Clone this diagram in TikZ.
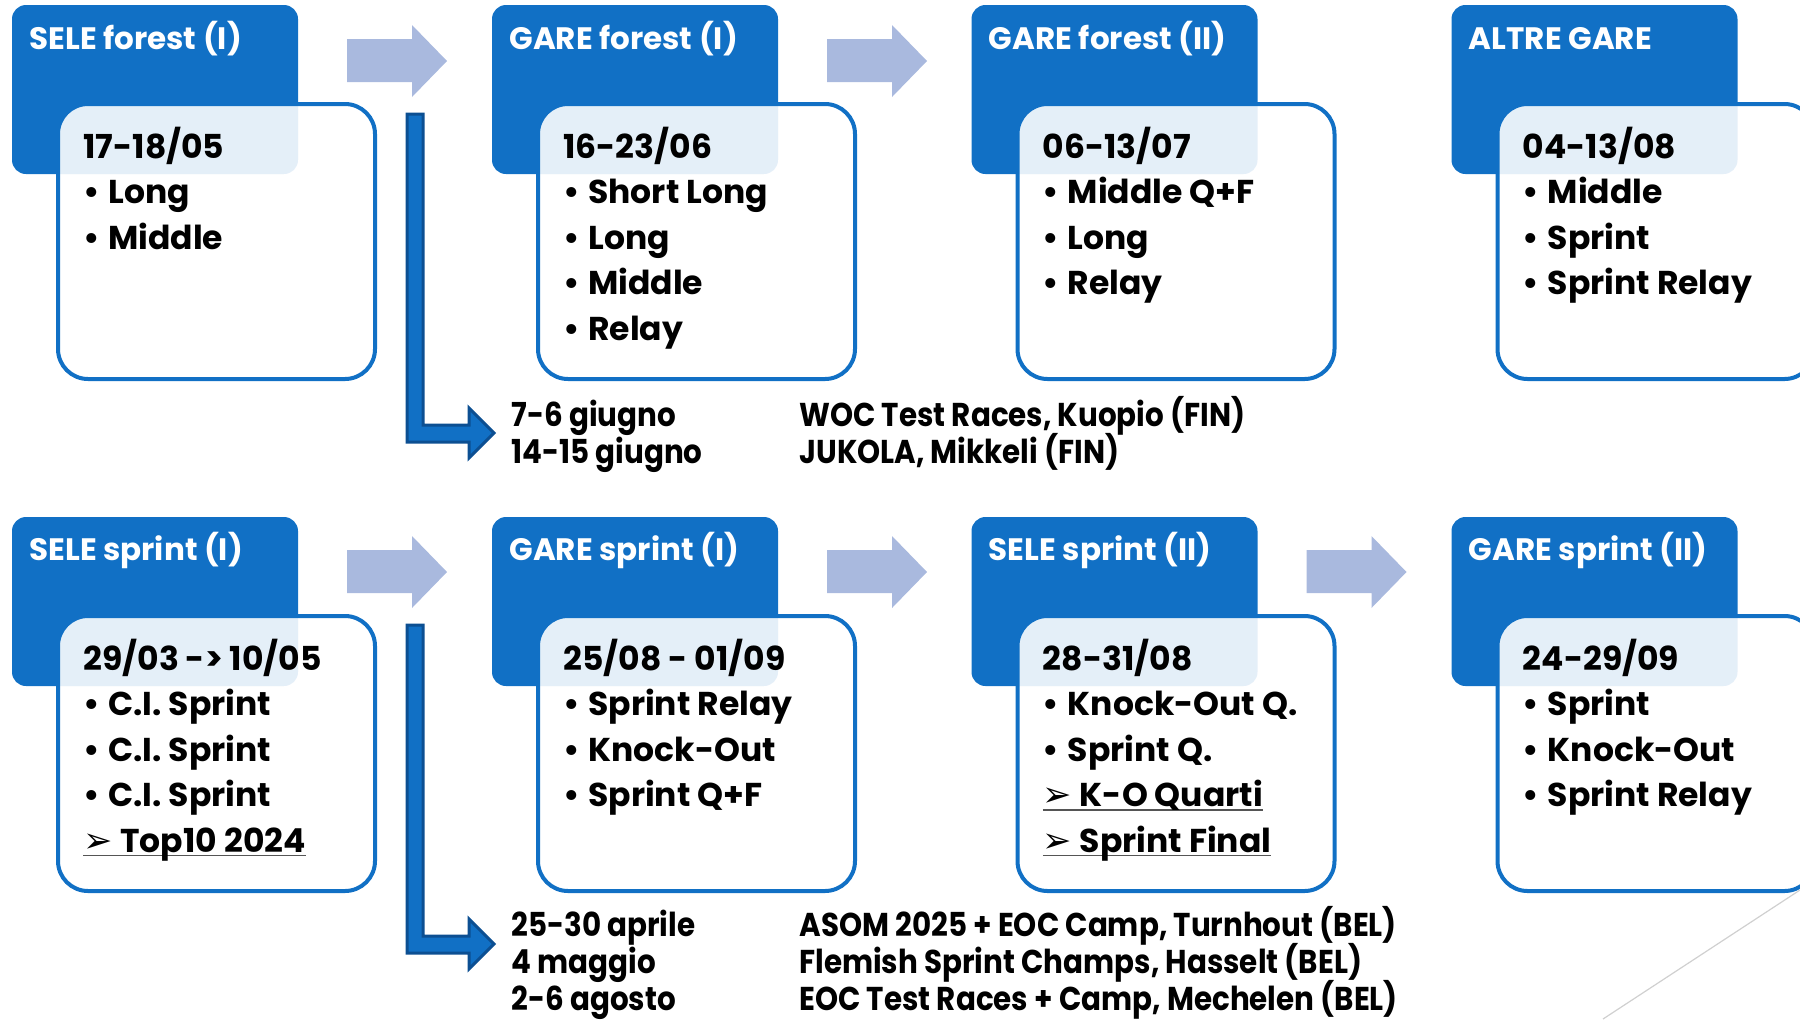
\documentclass[tikz,border=0pt]{standalone}
\usepackage{fontspec}
\setmainfont{Poppins}
\newfontfamily\notef{Poppins}[FakeStretch=0.89]
\newfontfamily\symf{DejaVu Sans}
\definecolor{hblue}{HTML}{1170C5}
\definecolor{dblue}{HTML}{0C4F92}
\definecolor{ablue}{HTML}{A9B9DE}
\definecolor{ulgray}{HTML}{555555}
\definecolor{lgray}{HTML}{D0D0D0}
\newcommand\myul[1]{\setbox0\hbox{#1}\rlap{\color{ulgray}\rule[-2pt]{\wd0}{0.6pt}}\box0}
\newcommand\bitem[1]{\makebox[12.5pt][l]{•}#1}
\newcommand\aitem[1]{\myul{\makebox[18.5pt][l]{\symf\fontsize{17.5}{17.5}\selectfont ➢}#1}}
\begin{document}
\begin{tikzpicture}[x=0.5pt,y=-0.5pt,
  hdr/.style={fill=hblue, rounded corners=7pt, minimum width=143pt, minimum height=84.5pt, anchor=north west, inner sep=0pt, outer sep=0pt},
  wbox/.style={draw=hblue, line width=2pt, fill=white, fill opacity=0.89, rounded corners=15pt, minimum width=158.5pt, minimum height=137.5pt, anchor=north west, inner sep=0pt},
  ttl/.style={anchor=base west, inner sep=0pt, text=white, font=\fontsize{15.5}{18}\selectfont\bfseries},
  body/.style={anchor=base west, inner sep=0pt, font=\fontsize{16.5}{22.75}\selectfont\bfseries},
  note/.style={anchor=base west, inner sep=0pt, font=\notef\fontsize{16.5}{18.75}\selectfont\bfseries},
  blk/.style={fill=ablue},
  elb/.style={fill=hblue, draw=dblue, line width=1.5pt, line join=miter},
  thin/.style={draw=lgray, line width=0.6pt}]
\useasboundingbox (0,0) rectangle (1800,1019);
\clip (0,0) rectangle (1800,1019);

% ---------- headers ----------
\node[hdr] (h1) at (12,5) {};
\node[hdr] (h2) at (492,5) {};
\node[hdr] (h3) at (971.5,5) {};
\node[hdr] (h4) at (1451.5,5) {};
\node[hdr] (h5) at (12,517) {};
\node[hdr] (h6) at (492,517) {};
\node[hdr] (h7) at (971.5,517) {};
\node[hdr] (h8) at (1451.5,517) {};

% ---------- white boxes ----------
\node[wbox] (w1) at (56,102) {};
\node[wbox] (w2) at (536,102) {};
\node[wbox] (w3) at (1015.5,102) {};
\node[wbox] (w4) at (1495.5,102) {};
\node[wbox] (w5) at (56,614) {};
\node[wbox] (w6) at (536,614) {};
\node[wbox] (w7) at (1015.5,614) {};
\node[wbox] (w8) at (1495.5,614) {};

% ---------- titles ----------
\node[ttl] (t1) at (29,49) {SELE forest (I)};
\node[ttl] (t2) at (509,49) {GARE forest (I)};
\node[ttl] (t3) at (988.5,49) {GARE forest (II)};
\node[ttl] (t4) at (1468.5,49) {ALTRE GARE};
\node[ttl] (t5) at (29,560) {SELE sprint (I)};
\node[ttl] (t6) at (509,560) {GARE sprint (I)};
\node[ttl] (t7) at (988.5,560) {SELE sprint (II)};
\node[ttl] (t8) at (1468.5,560) {GARE sprint (II)};

% ---------- contents ----------
\node[body] (b1) at (83,158) {\begin{tabular}[t]{@{}l@{}}17-18/05\\\bitem{Long}\\\bitem{Middle}\end{tabular}};
\node[body] (b2) at (563,158) {\begin{tabular}[t]{@{}l@{}}16-23/06\\\bitem{Short Long}\\\bitem{Long}\\\bitem{Middle}\\\bitem{Relay}\end{tabular}};
\node[body] (b3) at (1042.5,158) {\begin{tabular}[t]{@{}l@{}}06-13/07\\\bitem{Middle Q+F}\\\bitem{Long}\\\bitem{Relay}\end{tabular}};
\node[body] (b4) at (1522.5,158) {\begin{tabular}[t]{@{}l@{}}04-13/08\\\bitem{Middle}\\\bitem{Sprint}\\\bitem{Sprint Relay}\end{tabular}};
\node[body] (b5) at (83,670) {\begin{tabular}[t]{@{}l@{}}29/03 -> 10/05\\\bitem{C.I. Sprint}\\\bitem{C.I. Sprint}\\\bitem{C.I. Sprint}\\\aitem{Top10 2024}\end{tabular}};
\node[body] (b6) at (563,670) {\begin{tabular}[t]{@{}l@{}}25/08 - 01/09\\\bitem{Sprint Relay}\\\bitem{Knock-Out}\\\bitem{Sprint Q+F}\end{tabular}};
\node[body] (b7) at (1042.5,670) {\begin{tabular}[t]{@{}l@{}}28-31/08\\\bitem{Knock-Out Q.}\\\bitem{Sprint Q.}\\\aitem{K-O Quarti}\\\aitem{Sprint Final}\end{tabular}};
\node[body] (b8) at (1522.5,670) {\begin{tabular}[t]{@{}l@{}}24-29/09\\\bitem{Sprint}\\\bitem{Knock-Out}\\\bitem{Sprint Relay}\end{tabular}};

% ---------- block arrows between stages ----------
\foreach \ax/\ay in {347/0, 827/0, 347/511, 827/511, 1306.5/511}{
  \fill[blk] (\ax,39+\ay) -- (\ax+65,39+\ay) -- (\ax+65,25+\ay) -- (\ax+100,61+\ay)
     -- (\ax+65,97+\ay) -- (\ax+65,82+\ay) -- (\ax,82+\ay) -- cycle;
}

% ---------- elbow arrows ----------
\coordinate (e1) at (407,114);
\coordinate (e2) at (407,625);
\draw[elb] (e1) -- ++(16,0) -- ++(0,311) -- ++(46,0) -- ++(0,-17) -- ++(25,25)
  -- ++(-25,25) -- ++(0,-16) -- ++(-62,0) -- cycle;
\draw[elb] (e2) -- ++(16,0) -- ++(0,311) -- ++(46,0) -- ++(0,-17) -- ++(25,25)
  -- ++(-25,25) -- ++(0,-16) -- ++(-62,0) -- cycle;

% ---------- side notes ----------
\node[note] (n1a) at (511,426) {7-6 giugno};
\node[note] (n1b) at (511,463) {14-15 giugno};
\node[note] (n2a) at (799,426) {WOC Test Races, Kuopio (FIN)};
\node[note] (n2b) at (799,463) {JUKOLA, Mikkeli (FIN)};
\node[note] (n3a) at (511,936) {25-30 aprile};
\node[note] (n3b) at (511,973.5) {4 maggio};
\node[note] (n3c) at (511,1010.5) {2-6 agosto};
\node[note] (n4a) at (799,936) {ASOM 2025 + EOC Camp, Turnhout (BEL)};
\node[note] (n4b) at (799,973.5) {Flemish Sprint Champs, Hasselt (BEL)};
\node[note] (n4c) at (799,1010.5) {EOC Test Races + Camp, Mechelen (BEL)};

% ---------- decorative line ----------
\coordinate (d1) at (1800,890);
\coordinate (d2) at (1603,1019);
\draw[thin] (d1) -- (d2);
\end{tikzpicture}
\end{document}
